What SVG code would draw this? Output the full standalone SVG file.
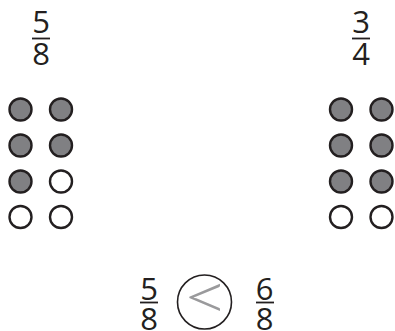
<svg xmlns="http://www.w3.org/2000/svg" width="395" height="331" viewBox="0 0 395 331">
<style>
.num{font-family:"Open Sans","Liberation Sans",sans-serif;font-size:31px;font-weight:500;fill:#231f20;text-anchor:middle}
.bar{stroke:#231f20;stroke-width:1.8}
.on{fill:#808083;stroke:#231f20;stroke-width:2.4}
.off{fill:#fff;stroke:#231f20;stroke-width:2.4}
</style>
<rect width="395" height="331" fill="#fff"/>
<g id="frac-left">
<text class="num" x="41" y="33">5</text>
<line class="bar" x1="32" y1="38.5" x2="50" y2="38.5"/>
<text class="num" x="41" y="65">8</text>
</g>
<g id="frac-right">
<text class="num" x="361" y="33">3</text>
<line class="bar" x1="352" y1="38.5" x2="370" y2="38.5"/>
<text class="num" x="361" y="65">4</text>
</g>
<g id="dots-left">
<circle class="on" cx="20.5" cy="109.5" r="11"/>
<circle class="on" cx="61" cy="109.5" r="11"/>
<circle class="on" cx="20.5" cy="145.5" r="11"/>
<circle class="on" cx="61" cy="145.5" r="11"/>
<circle class="on" cx="20.5" cy="181.5" r="11"/>
<circle class="off" cx="61" cy="181.5" r="11"/>
<circle class="off" cx="20.5" cy="217" r="11"/>
<circle class="off" cx="61" cy="217" r="11"/>
</g>
<g id="dots-right">
<circle class="on" cx="341" cy="109.5" r="11"/>
<circle class="on" cx="381.5" cy="109.5" r="11"/>
<circle class="on" cx="341" cy="145.5" r="11"/>
<circle class="on" cx="381.5" cy="145.5" r="11"/>
<circle class="on" cx="341" cy="181.5" r="11"/>
<circle class="on" cx="381.5" cy="181.5" r="11"/>
<circle class="off" cx="341" cy="217" r="11"/>
<circle class="off" cx="381.5" cy="217" r="11"/>
</g>
<g id="compare">
<text class="num" x="149" y="300">5</text>
<line class="bar" x1="140" y1="302.5" x2="158" y2="302.5"/>
<text class="num" x="149" y="330">8</text>
<circle cx="204.5" cy="302" r="27" fill="none" stroke="#231f20" stroke-width="1.6"/>
<text transform="translate(206,320) scale(1.2,1)" font-family="Lato,'Open Sans',sans-serif" font-weight="300" font-size="68" fill="#9a9a9c" text-anchor="middle">&lt;</text>
<text class="num" x="264.5" y="300">6</text>
<line class="bar" x1="256" y1="302.5" x2="274" y2="302.5"/>
<text class="num" x="264.5" y="330">8</text>
</g>
</svg>
